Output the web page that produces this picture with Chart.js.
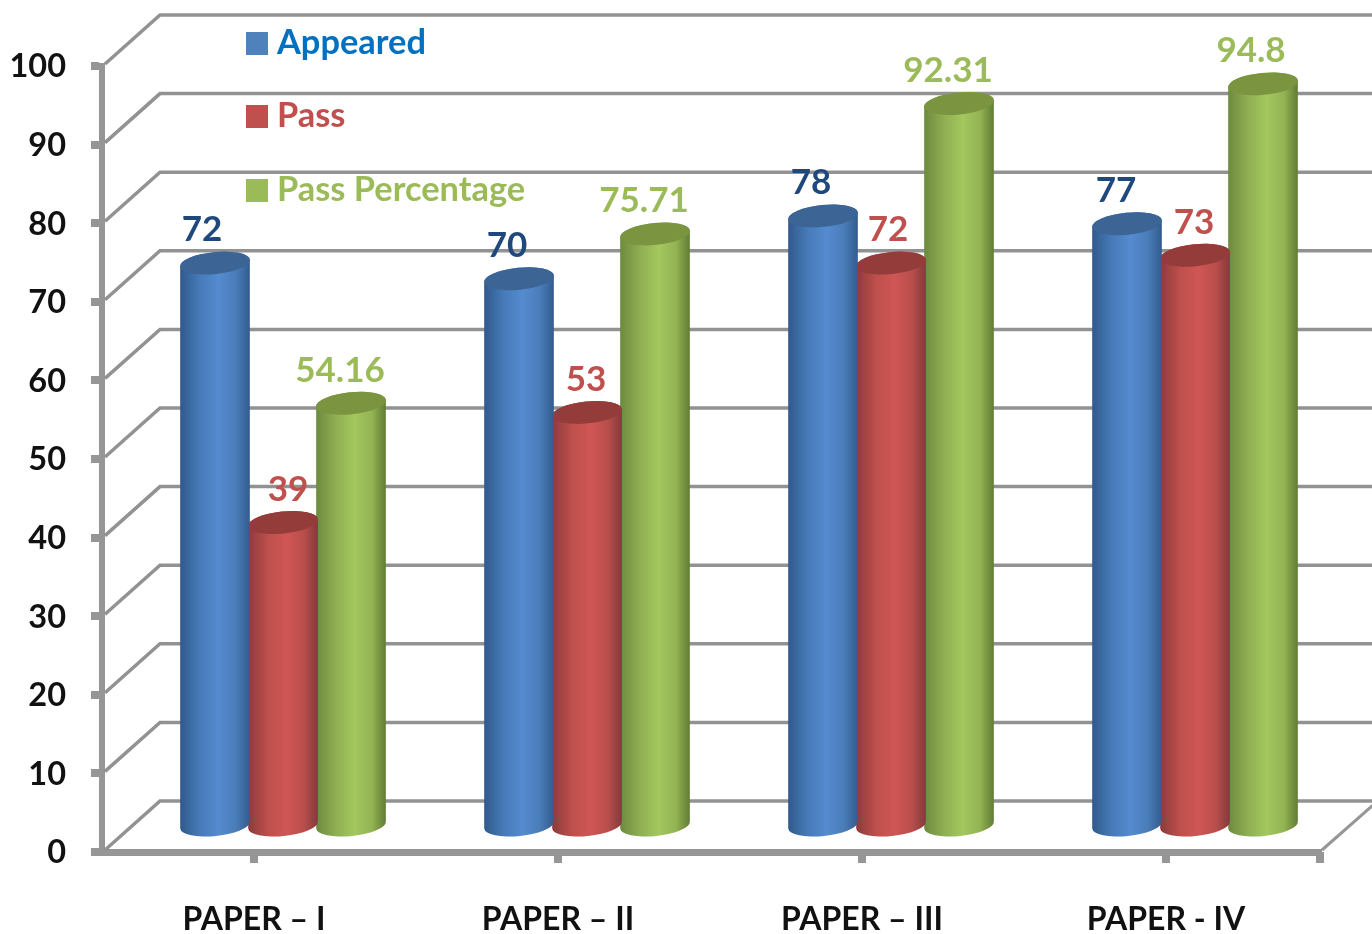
<!DOCTYPE html>
<html><head><meta charset="utf-8">
<style>html,body{margin:0;padding:0;background:#fff}canvas{display:block}</style>
<script src="https://cdn.jsdelivr.net/npm/chart.js@4"></script>
</head><body><canvas id="c" width="1372" height="934"></canvas>
<script>
const categories = ['PAPER – I', 'PAPER – II', 'PAPER – III', 'PAPER - IV'];
const seriesNames = ['Appeared', 'Pass', 'Pass Percentage'];
const appeared = [72, 70, 78, 77];
const pass = [39, 53, 72, 73];
const passPercentage = [54.16, 75.71, 92.31, 94.8];
const yTicks = [0, 10, 20, 30, 40, 50, 60, 70, 80, 90, 100];

const FONT = 'Lato, "Open Sans", sans-serif';
const GRID = '#929292', AXIS = '#969696';
const DEPTH_X = 58, DEPTH_Y = -51;          // back wall shift
const BAR_DX = 29, BAR_DY = -23;            // bar plane shift
const styles = [
  {stops:['#31598c','#467ab8','#558bd0','#4a7cb8','#335c8e'], top:'#3c6595', label:'#1f497d', legend:'#0070c0', swatch:'#4f81bd'},
  {stops:['#8a3b39','#bd4f4c','#d05655','#b84e4b','#83393a'], top:'#943c3a', label:'#c0504d', legend:'#c0504d', swatch:'#c0504d'},
  {stops:['#6c8a3e','#8fae52','#a4c75e','#93b354','#5f7c33'], top:'#7a9440', label:'#9bbb59', legend:'#9bbb59', swatch:'#9bbb59'}
];
const labelDx = [[-13,-12,-12,-11],[5,-1,-3,-1],[-11,-11,-11,-12]];
const legendY = [43, 116, 190];

const scene = {
  id: 'scene',
  beforeDatasetsDraw(chart) {
    const {ctx, chartArea: a, scales: {x, y}} = chart;
    ctx.save();
    const xBack = a.left + DEPTH_X;
    // right-hand floor edge and end tick
    ctx.strokeStyle = AXIS; ctx.lineWidth = 3;
    ctx.beginPath(); ctx.moveTo(a.right + 4, a.bottom - 2); ctx.lineTo(a.right + 4 + DEPTH_X, a.bottom - 2 + DEPTH_Y); ctx.stroke();
    ctx.fillStyle = AXIS;
    ctx.fillRect(a.right - 2, a.bottom - 3, 6, 7);
    ctx.fillRect(a.right - 2, a.bottom, 8, 11);
    y.ticks.forEach(t => {
      const py = y.getPixelForValue(t.value);
      ctx.beginPath(); ctx.moveTo(a.left + 3, py - 2); ctx.lineTo(xBack, py + DEPTH_Y); ctx.lineTo(chart.width, py + DEPTH_Y);
      ctx.strokeStyle = GRID; ctx.lineWidth = 3.5; ctx.stroke();
    });
    ctx.restore();
  },
  beforeDatasetDraw(chart, args) {
    const {ctx} = chart;
    const s = styles[args.index];
    const meta = args.meta;
    ctx.save();
    meta.data.forEach((el, i) => {
      const cx = el.x + BAR_DX, rx = el.width / 2 + 1, ry = 11, rot = -0.1;
      const top = el.y + BAR_DY, base = el.base + BAR_DY;
      const g = ctx.createLinearGradient(cx - rx, 0, cx + rx, 0);
      [0, .28, .55, .8, 1].forEach((p, k) => g.addColorStop(p, s.stops[k]));
      ctx.beginPath();
      ctx.ellipse(cx, base, rx, ry, rot, 0, Math.PI);
      ctx.ellipse(cx, top, rx, ry, rot, Math.PI, Math.PI * 2);
      ctx.closePath();
      ctx.fillStyle = g; ctx.fill();
      ctx.beginPath();
      ctx.ellipse(cx, top, rx, ry, rot, 0, Math.PI * 2);
      ctx.fillStyle = s.top; ctx.fill();
    });
    ctx.restore();
    return false;
  },
  afterDatasetsDraw(chart) {
    const {ctx} = chart;
    ctx.save();
    ctx.textBaseline = 'middle'; ctx.textAlign = 'center';
    ctx.font = 'bold 35px ' + FONT;
    chart.data.datasets.forEach((ds, d) => {
      chart.getDatasetMeta(d).data.forEach((el, i) => {
        ctx.fillStyle = styles[d].label;
        ctx.fillText(String(ds.data[i]), el.x + BAR_DX + labelDx[d][i], el.y + BAR_DY - 33);
      });
    });
    ctx.textAlign = 'left';
    ctx.font = 'bold 34.4px ' + FONT;
    chart.data.datasets.forEach((ds, d) => {
      ctx.fillStyle = styles[d].swatch;
      ctx.fillRect(246, legendY[d] - 11, 22, 23);
      ctx.fillStyle = styles[d].legend;
      ctx.fillText(ds.label, 277, legendY[d]);
    });
    ctx.restore();
  }
};

new Chart(document.getElementById('c'), {
  type: 'bar',
  data: {
    labels: categories,
    datasets: [
      {label: seriesNames[0], data: appeared, backgroundColor: styles[0].swatch},
      {label: seriesNames[1], data: pass, backgroundColor: styles[1].swatch},
      {label: seriesNames[2], data: passPercentage, backgroundColor: styles[2].swatch}
    ]
  },
  plugins: [scene],
  options: {
    responsive: false,
    animation: false,
    layout: {padding: {top: 66, right: 54, left: 0, bottom: 0}},
    plugins: {legend: {display: false}, tooltip: {enabled: false}},
    datasets: {bar: {categoryPercentage: 0.671, barPercentage: 1}},
    scales: {
      x: {
        afterFit(s) { s.height = 82; },
        grid: {offset: false, drawOnChartArea: false, color: AXIS, lineWidth: 8, tickLength: 11},
        border: {color: AXIS, width: 7},
        ticks: {color: '#111', padding: 37, font: {family: FONT, weight: 'bold', size: 32}, maxRotation: 0}
      },
      y: {
        min: 0, max: 100,
        afterFit(s) { s.width = 102; },
        afterBuildTicks(s) { s.ticks = yTicks.map(v => ({value: v})); },
        grid: {drawOnChartArea: false, color: AXIS, lineWidth: 8, tickLength: 11},
        border: {color: AXIS, width: 6},
        ticks: {color: '#111', padding: 25, labelOffset: 1, font: {family: FONT, weight: 'bold', size: 32.5}}
      }
    }
  }
});
</script></body></html>
